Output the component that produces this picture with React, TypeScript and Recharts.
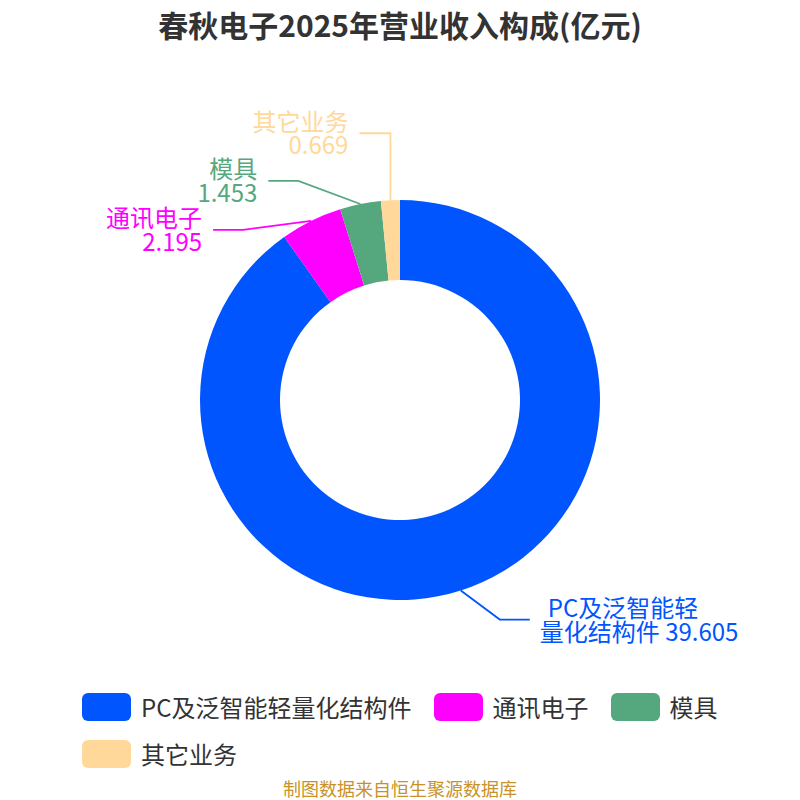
import { Cell, Legend, Pie, PieChart } from 'recharts';

// 春秋电子 2025 revenue breakdown (亿元)
const names = ['PC及泛智能轻量化结构件', '通讯电子', '模具', '其它业务'];
const values = [39.605, 2.195, 1.453, 0.669];
const colors = ['#0055FF', '#FF00FF', '#55A87E', '#FFD89A'];

const chartData = names.map((name, i) => ({ name, value: values[i] }));

// leader line bend relative to slice edge: [dx, dy, horizontal length]
const labelElbow: Record<string, number[]> = {
  'PC及泛智能轻量化结构件': [39, 29, 30],
  '通讯电子': [-68, 9, -30],
  '模具': [-62, -23, -30],
  '其它业务': [0, -67, -31],
};

const FONT = '"Noto Sans CJK SC", "Noto Sans", sans-serif';
const RADIAN = Math.PI / 180;

const renderLabel = (props: any) => {
  const { cx, cy, midAngle, outerRadius, index } = props;
  const name = names[index];
  const value = values[index];
  const color = colors[index];
  const [dx, dy, len] = labelElbow[name];
  const sx = cx + outerRadius * Math.cos(-midAngle * RADIAN);
  const sy = cy + outerRadius * Math.sin(-midAngle * RADIAN);
  const mx = sx + dx;
  const my = sy + dy;
  const ex = mx + len;
  const right = len > 0;
  const tx = ex + (right ? 10 : -11);
  const wrap = name.length > 8;
  const line1 = wrap ? name.slice(0, 7) : name;
  const line2 = wrap ? `${name.slice(7)} ${value}` : `${value}`;
  return (
    <g>
      <polyline points={`${sx},${sy} ${mx},${my} ${ex},${my}`} fill="none" stroke={color} strokeWidth={1.8} />
      <text textAnchor={right ? 'start' : 'end'} fill={color} fontSize={24} fontFamily={FONT}>
        <tspan x={tx + (wrap ? 8 : 0)} y={my - 13} dominantBaseline="central">{line1}</tspan>
        <tspan x={tx} y={my + 10.5} dominantBaseline="central">{line2}</tspan>
      </text>
    </g>
  );
};

const LegendContent = () => (
  <div style={{ width: 636, margin: '0 auto', display: 'flex', flexWrap: 'wrap', columnGap: 22, rowGap: 19 }}>
    {names.map((name, i) => (
      <div key={name} style={{ display: 'flex', alignItems: 'center', height: 28 }}>
        <span style={{ width: 49, height: 28, borderRadius: 6, background: colors[i], marginRight: 10, display: 'inline-block' }} />
        <span style={{ fontSize: 24, color: '#333', fontFamily: FONT, lineHeight: '28px', whiteSpace: 'nowrap' }}>{name}</span>
      </div>
    ))}
  </div>
);

export default function App() {
  return (
    <div style={{ position: 'absolute', left: 0, top: 0, width: 800, height: 800, background: '#fff', fontFamily: FONT }}>
      <div style={{ position: 'absolute', top: 0, left: 0, width: 800, height: 48, lineHeight: '48px', textAlign: 'center', fontSize: 30, fontWeight: 'bold', color: '#333' }}>
        春秋电子2025年营业收入构成(亿元)
      </div>
      <PieChart width={800} height={800} margin={{ top: 0, right: 0, bottom: 0, left: 0 }}>
        <Pie
          data={chartData}
          dataKey="value"
          nameKey="name"
          cx={400}
          cy={400}
          innerRadius={120}
          outerRadius={200}
          startAngle={90}
          endAngle={-270}
          stroke="none"
          label={renderLabel}
          labelLine={false}
          isAnimationActive={false}
        >
          {chartData.map((d, i) => (
            <Cell key={d.name} fill={colors[i]} />
          ))}
        </Pie>
        <Legend
          verticalAlign="bottom"
          content={<LegendContent />}
          wrapperStyle={{ top: 693, left: 0, width: 800, bottom: 'auto' }}
        />
      </PieChart>
      <div style={{ position: 'absolute', top: 776, left: 0, width: 800, height: 24, lineHeight: '24px', textAlign: 'center', fontSize: 18, color: '#C8922A' }}>
        制图数据来自恒生聚源数据库
      </div>
    </div>
  );
}
